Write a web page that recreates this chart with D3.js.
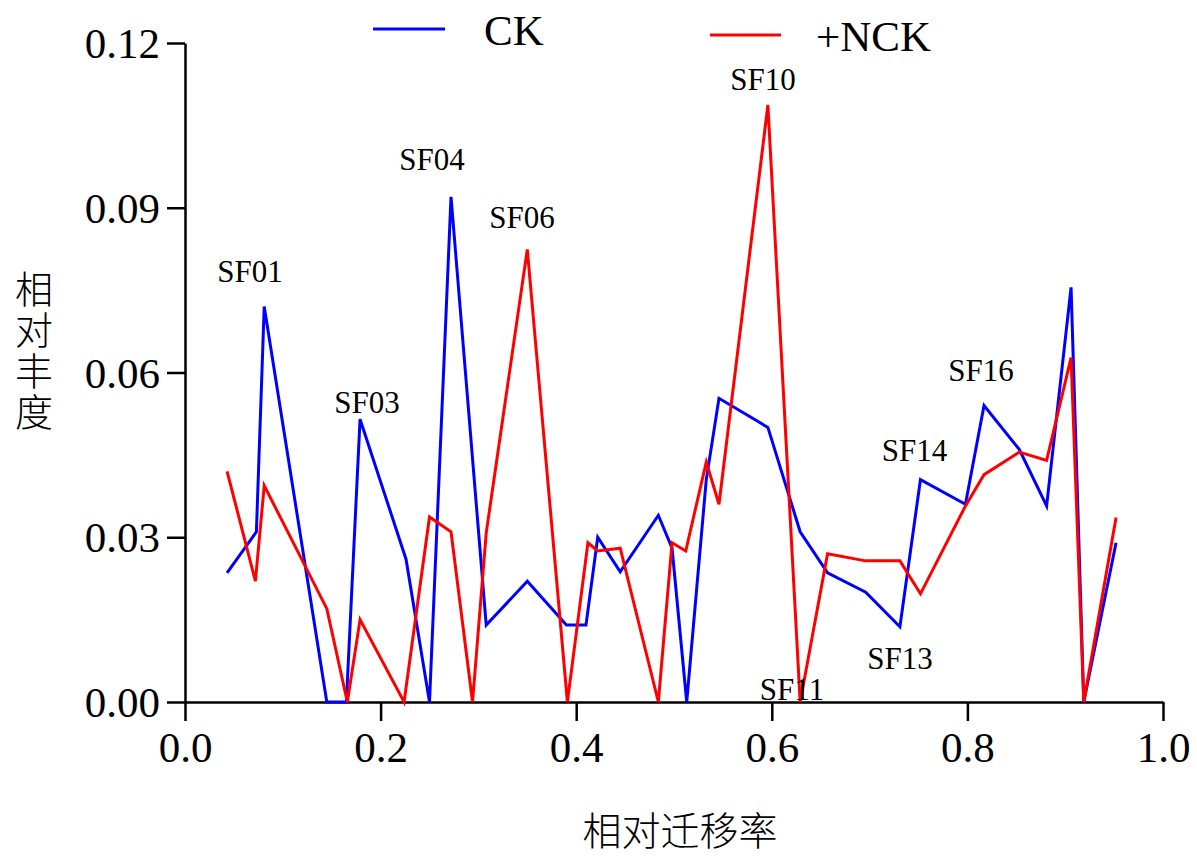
<!DOCTYPE html>
<html>
<head>
<meta charset="utf-8">
<script src="https://cdn.jsdelivr.net/npm/d3@7"></script>
<style>
  body { margin: 0; background: #fff; }
  svg { display: block; }
</style>
</head>
<body>
<div id="chart"></div>
<script>
// CK series (relative migration rate, relative abundance)
var ckX = [0.043, 0.073, 0.081, 0.145, 0.165, 0.179, 0.226, 0.250, 0.272, 0.308,
           0.350, 0.390, 0.410, 0.422, 0.445, 0.484, 0.498, 0.513, 0.533, 0.546,
           0.596, 0.629, 0.657, 0.696, 0.731, 0.752, 0.798, 0.817, 0.853, 0.881,
           0.906, 0.919, 0.952];
var ckY = [0.0235, 0.031, 0.072, 0.000, 0.000, 0.0515, 0.026, 0.000, 0.092, 0.014,
           0.022, 0.014, 0.014, 0.030, 0.0237, 0.034, 0.028, 0.000, 0.0405, 0.0553,
           0.050, 0.031, 0.0235, 0.020, 0.0137, 0.0405, 0.036, 0.054, 0.046, 0.0357,
           0.0755, 0.000, 0.029];

// +NCK series
var nckX = [0.043, 0.072, 0.081, 0.145, 0.166, 0.179, 0.224, 0.250, 0.272, 0.294,
            0.308, 0.350, 0.391, 0.412, 0.422, 0.445, 0.484, 0.498, 0.512, 0.533,
            0.546, 0.596, 0.629, 0.657, 0.696, 0.731, 0.752, 0.798, 0.817, 0.853,
            0.881, 0.906, 0.919, 0.952];
var nckY = [0.042, 0.022, 0.0394, 0.017, 0.000, 0.015, 0.000, 0.0337, 0.031, 0.000,
            0.0308, 0.0824, 0.000, 0.029, 0.0275, 0.028, 0.000, 0.029, 0.0275, 0.0437,
            0.036, 0.1087, 0.000, 0.027, 0.0257, 0.0257, 0.0197, 0.0357, 0.0414, 0.0455,
            0.044, 0.0627, 0.000, 0.0336];

// band labels
var bandNames = ["SF01", "SF03", "SF04", "SF06", "SF10", "SF11", "SF13", "SF14", "SF16"];
var bandX = [0.0665, 0.186, 0.2526, 0.3446, 0.591, 0.6207, 0.731, 0.746, 0.814];
var bandY = [0.0765, 0.0526, 0.0969, 0.0863, 0.1114, 0.0004, 0.006, 0.0439, 0.0585];

var xTicks = [0, 0.2, 0.4, 0.6, 0.8, 1.0];
var yTicks = [0, 0.03, 0.06, 0.09, 0.12];
var seriesNames = ["CK", "+NCK"];

var width = 1197, height = 857;
var serif = "'Liberation Serif', 'Times New Roman', serif";
var cjk = "'Noto Sans CJK SC', sans-serif";

var svg = d3.select("#chart")
  .append("svg")
    .attr("width", width)
    .attr("height", height);

var x = d3.scaleLinear().domain([0, 1]).range([185, 1163]);
var y = d3.scaleLinear().domain([0, 0.12]).range([702, 43]);

// X axis
var gx = svg.append("g")
  .attr("transform", "translate(0," + y(0) + ")")
  .call(d3.axisBottom(x).tickValues(xTicks).tickFormat(d3.format(".1f"))
        .tickSize(19).tickSizeOuter(0).tickPadding(10));

// Y axis
var gy = svg.append("g")
  .attr("transform", "translate(" + x(0) + ",0)")
  .call(d3.axisLeft(y).tickValues(yTicks).tickFormat(d3.format(".2f"))
        .tickSize(18).tickSizeOuter(0).tickPadding(7));

[gx, gy].forEach(function(g) {
  g.select(".domain").attr("stroke", "#000").attr("stroke-width", 2.5);
  g.selectAll(".tick line").attr("stroke", "#000").attr("stroke-width", 2.5);
  g.selectAll(".tick text")
    .attr("fill", "#000")
    .style("font-family", serif)
    .style("font-size", "43px");
});
gx.selectAll(".tick text").attr("dy", "0.71em");
gy.selectAll(".tick text").attr("dy", "0.34em");

// lines
var line = d3.line()
  .x(function(d) { return x(d[0]); })
  .y(function(d) { return y(d[1]); });

var ckData = ckX.map(function(v, i) { return [v, ckY[i]]; });
var nckData = nckX.map(function(v, i) { return [v, nckY[i]]; });

svg.append("path")
  .datum(ckData)
  .attr("fill", "none")
  .attr("stroke", "#0000ff")
  .attr("stroke-width", 3)
  .attr("d", line);

svg.append("path")
  .datum(nckData)
  .attr("fill", "none")
  .attr("stroke", "#ff0000")
  .attr("stroke-width", 3)
  .attr("d", line);

// band labels
svg.selectAll(".band")
  .data(bandNames)
  .enter().append("text")
    .attr("class", "band")
    .attr("x", function(d, i) { return x(bandX[i]); })
    .attr("y", function(d, i) { return y(bandY[i]); })
    .attr("text-anchor", "middle")
    .style("font-family", serif)
    .style("font-size", "31px")
    .text(function(d) { return d; });

// legend
var legend = [
  { name: seriesNames[0], color: "#0000ff", x1: 373, x2: 445, ly: 29, tx: 484, ty: 45 },
  { name: seriesNames[1], color: "#ff0000", x1: 710, x2: 781, ly: 35, tx: 816, ty: 51 }
];
legend.forEach(function(l) {
  svg.append("line")
    .attr("x1", l.x1).attr("x2", l.x2)
    .attr("y1", l.ly).attr("y2", l.ly)
    .attr("stroke", l.color)
    .attr("stroke-width", 3);
  svg.append("text")
    .attr("x", l.tx).attr("y", l.ty)
    .style("font-family", serif)
    .style("font-size", "43px")
    .text(l.name);
});

// axis titles
svg.append("text")
  .attr("x", 680).attr("y", 845)
  .attr("text-anchor", "middle")
  .style("font-family", cjk)
  .style("font-weight", 300)
  .style("font-size", "39px")
  .text("相对迁移率");

// vertical y title, one text element
svg.append("text")
  .attr("x", 34).attr("y", 270)
  .style("writing-mode", "vertical-rl")
  .style("text-orientation", "upright")
  .style("letter-spacing", "3px")
  .style("font-family", cjk)
  .style("font-weight", 300)
  .style("font-size", "38px")
  .text("相对丰度");
</script>
</body>
</html>
